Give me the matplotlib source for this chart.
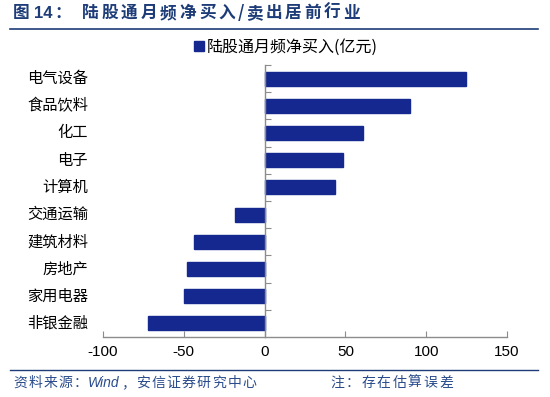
import matplotlib
matplotlib.use("Agg")
import matplotlib.pyplot as plt
import matplotlib.patches as mpatches
from matplotlib.lines import Line2D
from matplotlib.transforms import blended_transform_factory

plt.rcParams["font.family"] = ["Noto Sans CJK SC", "DejaVu Sans"]

# データ（上から順）
industries = ["电气设备", "食品饮料", "化工", "电子", "计算机",
              "交通运输", "建筑材料", "房地产", "家用电器", "非银金融"]
net_buy = [124.5, 90.2, 60.9, 48.7, 43.7, -18.4, -43.6, -48.3, -49.6, -72.1]
x_ticks = [-100, -50, 0, 50, 100, 150]
series_name = "陆股通月频净买入(亿元)"

W, H = 550, 397
BAR_COLOR = "#14288f"
TITLE_COLOR = "#1d3c78"
FOOT_COLOR = "#2a4c8c"
AXIS_COLOR = "#8c8c8c"

fig = plt.figure(figsize=(W / 100, H / 100), dpi=100)
ax = fig.add_axes([103 / W, 1 - 337 / H, 404 / W, 272 / H])

ypos = list(range(len(industries)))[::-1]
ax.barh(ypos, net_buy, height=0.52, color=BAR_COLOR, edgecolor=BAR_COLOR, zorder=2)

ax.set_xlim(-100, 150)
ax.set_ylim(-0.5, len(industries) - 0.5)
ax.set_xticks(x_ticks)
ax.set_xticklabels([str(t) for t in x_ticks], family="Liberation Sans", fontsize=11)

# y軸は0の位置、目盛りはカテゴリ境界
ax.spines["left"].set_position(("data", 0))
for s in ["top", "right"]:
    ax.spines[s].set_visible(False)
for s in ["left", "bottom"]:
    ax.spines[s].set_color(AXIS_COLOR)
    ax.spines[s].set_linewidth(1.0)
ax.set_yticks([y + 0.5 for y in range(len(industries))])
ax.set_yticklabels([])
ax.tick_params(axis="y", left=True, direction="in", length=4, color=AXIS_COLOR)
ax.tick_params(axis="x", direction="in", length=4, color=AXIS_COLOR, pad=6)

# カテゴリラベル（右端を図の左側に揃える）
label_tr = blended_transform_factory(fig.transFigure, ax.transData)
for y, name in zip(ypos, industries):
    ax.text(88 / W, y, name, transform=label_tr, ha="right", va="center", fontsize=11)

# 凡例
handle = mpatches.Patch(color=BAR_COLOR, label=series_name)
fig.legend(handles=[handle], loc="center", bbox_to_anchor=(286 / W, 1 - 47 / H),
           frameon=False, fontsize=11.5, handlelength=0.6, handleheight=0.6,
           handletextpad=0.2, borderpad=0)


def spaced(x_px, y_px, s, adv, **kw):
    """1文字ずつ等間隔で配置（全角文字の字間を再現）"""
    x = x_px
    for ch in s:
        fig.text(x / W, 1 - y_px / H, ch, ha="left", va="center", **kw)
        x += adv if ord(ch) > 127 else adv * 0.4


# タイトル
title_kw = dict(color=TITLE_COLOR, fontsize=12, fontweight="bold")
fig.text(13 / W, 1 - 13 / H, "图", ha="left", va="center", **title_kw)
fig.text(34 / W, 1 - 13 / H, "14", ha="left", va="center", family="Liberation Sans",
         **title_kw)
fig.text(54 / W, 1 - 13 / H, "：", ha="left", va="center", **title_kw)
spaced(82, 13, "陆股通月频净买入/卖出居前行业", 19.5, **title_kw)
fig.add_artist(Line2D([10 / W, 538 / W], [1 - 28.5 / H] * 2, color=TITLE_COLOR, lw=1.2))

# 出典
fig.add_artist(Line2D([10 / W, 538 / W], [1 - 369.5 / H] * 2, color=TITLE_COLOR, lw=1.0))
foot_kw = dict(color=FOOT_COLOR, fontsize=10)
spaced(13, 383, "资料来源：", 15.2, **foot_kw)
fig.text(88 / W, 1 - 383 / H, "Wind", ha="left", va="center", family="Liberation Sans",
         style="italic", **foot_kw)
spaced(121, 383, "，安信证券研究中心", 15.2, **foot_kw)
spaced(330, 383, "注：存在估算误差", 15.6, **foot_kw)

fig.savefig("out.png", dpi=100)
